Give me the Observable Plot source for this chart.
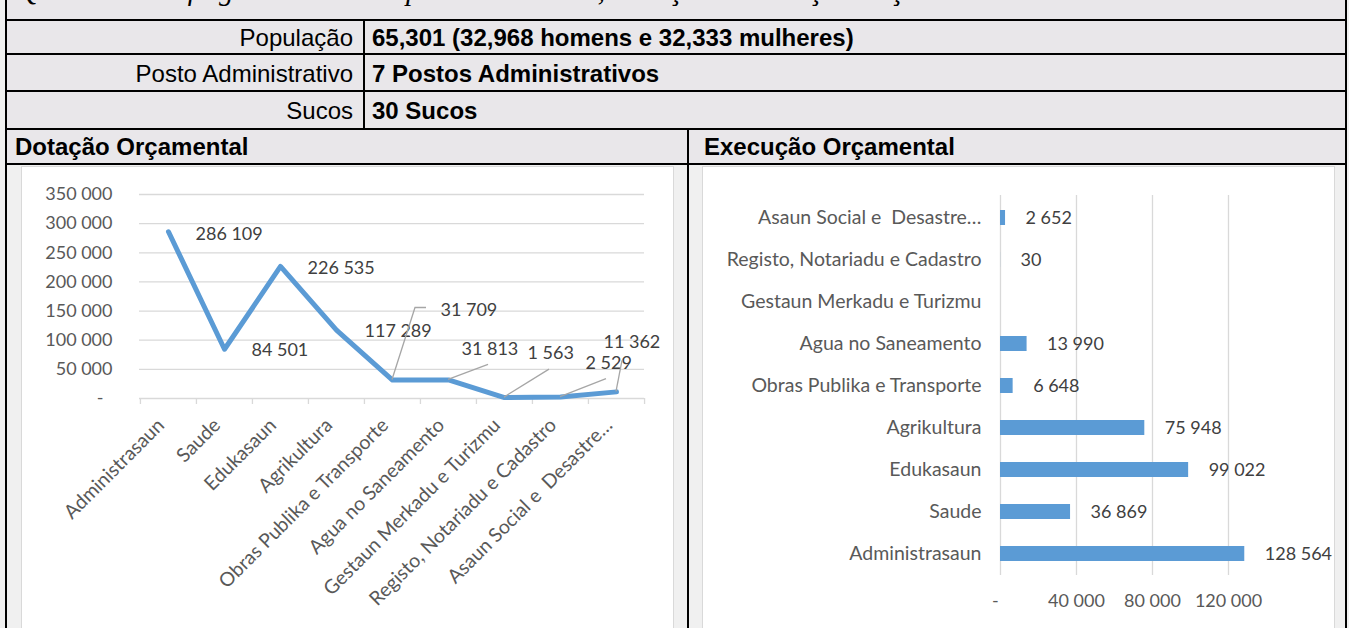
<!DOCTYPE html>
<html><head><meta charset="utf-8">
<script src="https://cdn.jsdelivr.net/npm/d3@7"></script>
<script src="https://cdn.jsdelivr.net/npm/@observablehq/plot@0.6"></script>
<style>
html,body{margin:0;padding:0;}
body{width:1349px;height:628px;overflow:hidden;position:relative;background:#f0f0f0;font-family:"Liberation Sans",Arial,sans-serif;color:#000;}
.box{position:absolute;}
.hl{position:absolute;left:5px;width:1342px;height:2px;background:#000;}
.vl{position:absolute;width:2px;background:#000;}
.lab{position:absolute;left:0;width:353px;text-align:right;font-size:24px;line-height:24px;white-space:nowrap;}
.val{position:absolute;left:372px;font-size:24px;line-height:24px;font-weight:bold;white-space:nowrap;}
.ttl{position:absolute;font-size:24px;line-height:24px;font-weight:bold;white-space:nowrap;}
.panel{position:absolute;background:#fff;border:1px solid #d9d9d9;box-sizing:border-box;overflow:hidden;}
.panel svg{position:absolute;left:0;top:0;}
</style></head><body>
<div id="root"></div>
<script>
// ---- data ----
const pageTitle = "Quadro 5: Perfil geral do Município de Covalima, Dotação e Execução Orçamental";
const infoLabels = ["População", "Posto Administrativo", "Sucos"];
const infoValues = ["65,301 (32,968 homens e 32,333 mulheres)", "7 Postos Administrativos", "30 Sucos"];
const panelTitles = ["Dotação Orçamental", "Execução Orçamental"];
const categories = [
  "Administrasaun", "Saude", "Edukasaun", "Agrikultura",
  "Obras Publika e Transporte", "Agua no Saneamento", "Gestaun Merkadu e Turizmu",
  "Registo, Notariadu e Cadastro", "Asaun Social e\u00a0 Desastre…"
];
const dotacao = [286109, 84501, 226535, 117289, 31709, 31813, 1563, 2529, 11362];
const execucao = [128564, 36869, 99022, 75948, 6648, 13990, null, 30, 2652];
const dotacaoTicks = [0, 50000, 100000, 150000, 200000, 250000, 300000, 350000];
const execucaoTicks = [0, 40000, 80000, 120000];

// label styling offsets (pixels) for the line chart's data labels and leader lines
const labelOffsets = [[27,2],[27,1],[27,2],[28,1],[48,-70],[13,-31],[23,-44],[25,-34],[-13,-50]];
const leaderOffsets = [null,null,null,null,[[23,-72],[34,-72]],[[40,-15]],[[45,-28]],[[46,-18]],[[6,-31]]];

// ---- layout (table) ----
const root = document.getElementById("root");
function add(cls, style, text) {
  const d = document.createElement("div");
  d.className = cls;
  Object.assign(d.style, style);
  if (text != null) d.textContent = text;
  root.appendChild(d);
  return d;
}
add("box", {left:"5px", top:"0px", width:"1342px", height:"165px", background:"#e9e7ea"});
// cut-off caption line at very top (only its descenders show, as in the source)
const tsvg = d3.create("svg").attr("width", 1349).attr("height", 19)
  .style("position","absolute").style("left","0px").style("top","0px");
tsvg.append("text").attr("x", 18).attr("y", 0)
  .attr("font-family", "'Liberation Serif', 'DejaVu Serif', serif")
  .attr("font-style", "italic").attr("font-size", 29).attr("fill", "#000")
  .text(pageTitle);
root.appendChild(tsvg.node());

const rowLines = [19, 53, 90, 128, 163];
rowLines.forEach(y => add("hl", {top: y + "px"}));
add("vl", {left:"5px", top:"0px", height:"628px"});
add("vl", {left:"1345px", top:"0px", height:"628px"});
add("vl", {left:"363px", top:"20px", height:"109px"});
add("vl", {left:"687px", top:"129px", height:"499px"});

infoLabels.forEach((t, i) => {
  const top = rowLines[i] + 2, h = rowLines[i+1] - rowLines[i] - 2;
  const y = top + (h - 24) / 2 + 1;
  add("lab", {top: y + "px"}, t);
  add("val", {top: y + "px"}, infoValues[i]);
});
add("ttl", {left:"15px", top:"135px"}, panelTitles[0]);
add("ttl", {left:"704px", top:"135px"}, panelTitles[1]);

const pL = add("panel", {left:"21px", top:"166px", width:"653px", height:"470px"});
const pR = add("panel", {left:"702px", top:"166px", width:"633px", height:"470px"});

// ---- formatting ----
const loc = d3.formatLocale({thousands: " ", grouping: [3], decimal: ","});
const fmt = loc.format(",");
const textColor = "#595959";
const labelColor = "#404040";
const blue = "#5b9bd5";
const grid = "#d9d9d9";

// ---- left: line chart ----
const lineData = categories.map((c, i) => ({cat: c, value: dotacao[i]}));
const W1 = 651, H1 = 461, mL1 = 117, mR1 = 29;
const step1 = (W1 - mL1 - mR1) / categories.length;
const left = Plot.plot({
  width: W1, height: H1,
  marginLeft: mL1, marginRight: mR1, marginTop: 27, marginBottom: 230,
  style: {fontFamily: "Lato, sans-serif", fontSize: "18px", background: "transparent", overflow: "visible"},
  x: {type: "point", domain: categories, padding: 0.5, axis: null},
  y: {domain: [0, 350000], axis: null},
  marks: [
    Plot.ruleY(dotacaoTicks, {stroke: grid, strokeWidth: 1.3}),
    Plot.axisY(dotacaoTicks, {tickSize: 0, tickPadding: 27, fill: textColor, fontSize: 18, label: null,
      tickFormat: d => d === 0 ? "-\u2002" : fmt(d)}),
    Plot.ruleX(lineData, {x: "cat", dx: -step1 / 2, y1: 0, y2: 0, insetBottom: -6, stroke: grid, strokeWidth: 1.3}),
    Plot.ruleX(lineData.slice(-1), {x: "cat", dx: step1 / 2, y1: 0, y2: 0, insetBottom: -6, stroke: grid, strokeWidth: 1.3}),
    Plot.line(lineData, {x: "cat", y: "value", stroke: blue, strokeWidth: 5, strokeLinejoin: "round", strokeLinecap: "round"}),
    Plot.text(lineData, {x: "cat", frameAnchor: "bottom", text: "cat", rotate: -45, textAnchor: "end",
      dx: -3, dy: 28, fill: textColor, fontSize: 19.5}),
    ...lineData.map((d, i) => Plot.text([d], {x: "cat", y: "value", text: v => fmt(v.value),
      textAnchor: "start", dx: labelOffsets[i][0], dy: labelOffsets[i][1], fill: labelColor, fontSize: 18}))
  ]
});
pL.appendChild(left);
{
  const sx = left.scale("x"), sy = left.scale("y");
  const svg = d3.select(left);
  leaderOffsets.forEach((pts, i) => {
    if (!pts) return;
    const x0 = sx.apply(categories[i]), y0 = sy.apply(dotacao[i]);
    const path = [[x0, y0], ...pts.map(([dx, dy]) => [x0 + dx, y0 + dy])];
    svg.append("path").attr("d", d3.line()(path)).attr("fill", "none")
      .attr("stroke", "#a6a6a6").attr("stroke-width", 1.3);
  });
}

// ---- right: bar chart ----
const barData = categories.map((c, i) => ({cat: c, value: execucao[i]}));
const valued = barData.filter(d => d.value != null);
const right = Plot.plot({
  width: 630, height: 461,
  marginLeft: 297, marginRight: 67, marginTop: 28, marginBottom: 53,
  style: {fontFamily: "Lato, sans-serif", fontSize: "18px", background: "transparent", overflow: "visible"},
  x: {domain: [0, 140000], axis: null},
  y: {domain: categories.slice().reverse(), paddingInner: 0.645, paddingOuter: 0.3225, axis: null},
  marks: [
    Plot.ruleX(execucaoTicks, {stroke: grid, strokeWidth: 1.3}),
    Plot.axisX(execucaoTicks, {tickSize: 0, tickPadding: 19, fill: textColor, fontSize: 18, label: null,
      tickFormat: d => d === 0 ? "-\u2007" : fmt(d)}),
    Plot.axisY({tickSize: 0, tickPadding: 19, fill: textColor, fontSize: 19.5, label: null}),
    Plot.barX(valued, {x: "value", y: "cat", fill: blue}),
    Plot.text(valued, {x: "value", y: "cat", text: d => fmt(d.value), textAnchor: "start", dx: 20,
      fill: labelColor, fontSize: 18})
  ]
});
pR.appendChild(right);
</script>
</body></html>
